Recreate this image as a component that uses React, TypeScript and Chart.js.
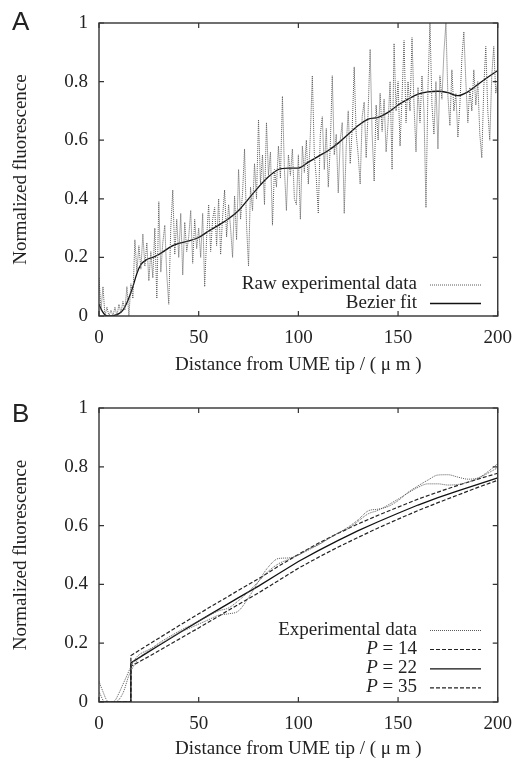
import React, { useEffect, useRef } from "react";
import { Chart, registerables } from "chart.js";
Chart.register(...registerables);

const SERIF = "'Liberation Serif', 'Times New Roman', serif";
const SANS = "'Liberation Sans', Arial, sans-serif";
const TEXT = "#222";

// ---------- shared axis ticks ----------
const xTicks = [0, 50, 100, 150, 200];
const yTicks = [0, 0.2, 0.4, 0.6, 0.8, 1];
const xTitle = "Distance from UME tip / ( \u03bc m )";
const yTitle = "Normalized fluorescence";

// ---------- Panel A ----------
const rawX = Array.from({ length: 201 }, (_, i) => i); // sampling grid, 1 µm
const rawY = [
  0.13, 0.02, 0.10, 0.0, 0.03, 0.0, 0.02, 0.0, 0.03, 0.0,
  0.04, 0.01, 0.05, 0.02, 0.10, 0.0, 0.11, 0.06, 0.26, 0.15,
  0.24, 0.16, 0.28, 0.17, 0.25, 0.12, 0.22, 0.13, 0.30, 0.06,
  0.39, 0.15, 0.25, 0.31, 0.14, 0.04, 0.30, 0.43, 0.21, 0.33,
  0.20, 0.35, 0.14, 0.32, 0.22, 0.27, 0.36, 0.18, 0.33, 0.23,
  0.30, 0.20, 0.35, 0.10, 0.27, 0.38, 0.22, 0.33, 0.37, 0.24,
  0.40, 0.21, 0.34, 0.43, 0.27, 0.38, 0.30, 0.20, 0.41, 0.26,
  0.50, 0.33, 0.42, 0.57, 0.31, 0.17, 0.44, 0.36, 0.52, 0.40,
  0.67, 0.45, 0.55, 0.38, 0.66, 0.48, 0.56, 0.31, 0.50, 0.44,
  0.58, 0.47, 0.75, 0.50, 0.36, 0.55, 0.48, 0.57, 0.40, 0.38,
  0.55, 0.33, 0.58, 0.49, 0.60, 0.45, 0.62, 0.82, 0.55, 0.47,
  0.35, 0.62, 0.68, 0.50, 0.64, 0.44, 0.58, 0.82, 0.55, 0.62,
  0.42, 0.60, 0.66, 0.35, 0.58, 0.70, 0.52, 0.64, 0.85, 0.62,
  0.55, 0.45, 0.68, 0.73, 0.54, 0.70, 0.91, 0.62, 0.46, 0.72,
  0.60, 0.76, 0.63, 0.74, 0.56, 0.66, 0.80, 0.50, 0.93, 0.70,
  0.80, 0.58, 0.75, 0.94, 0.66, 0.80, 0.70, 0.95, 0.72, 0.56,
  0.78, 0.66, 0.82, 0.70, 0.37, 0.78, 1.0, 0.72, 0.62, 0.80,
  0.57, 0.82, 0.74, 0.90, 1.0, 0.75, 0.65, 0.84, 0.70, 0.76,
  0.61, 0.72, 0.88, 0.97, 0.80, 0.66, 0.78, 0.70, 0.84, 0.72,
  0.80, 0.62, 0.54, 0.78, 0.92, 0.70, 0.60, 0.82, 0.92, 0.76,
  0.80,
];
const bezX = [0, 2, 4, 6, 8, 10, 12, 14, 16, 17, 19, 21, 24, 27, 30, 37, 40, 45, 50, 55, 60, 65, 70, 75, 80, 85, 90, 95, 100, 105, 110, 115, 120, 125, 130, 135, 140, 145, 150, 155, 160, 165, 170, 175, 180, 185, 190, 195, 200];
const bezY = [0.04, 0.012, 0.0, 0.0, 0.003, 0.008, 0.02, 0.045, 0.08, 0.1, 0.145, 0.175, 0.193, 0.2, 0.21, 0.24, 0.248, 0.256, 0.268, 0.29, 0.31, 0.332, 0.36, 0.40, 0.44, 0.475, 0.5, 0.505, 0.505, 0.525, 0.545, 0.565, 0.59, 0.62, 0.65, 0.672, 0.678, 0.695, 0.72, 0.74, 0.757, 0.765, 0.767, 0.762, 0.752, 0.765, 0.79, 0.815, 0.838];

// ---------- Panel B ----------
const modelX = [0, 15.9, 16, 20, 30, 40, 50, 60, 70, 80, 90, 100, 110, 120, 130, 140, 150, 160, 170, 180, 190, 200];
const p14Y = [0, 0, 0.158, 0.175, 0.217, 0.259, 0.30, 0.34, 0.38, 0.419, 0.462, 0.502, 0.54, 0.574, 0.606, 0.635, 0.663, 0.69, 0.714, 0.737, 0.758, 0.778];
const p22Y = [0, 0, 0.133, 0.150, 0.192, 0.234, 0.275, 0.315, 0.355, 0.394, 0.436, 0.478, 0.515, 0.55, 0.583, 0.613, 0.642, 0.67, 0.695, 0.718, 0.74, 0.762];
const p35Y = [0, 0, 0.122, 0.136, 0.174, 0.213, 0.252, 0.292, 0.332, 0.371, 0.413, 0.455, 0.492, 0.527, 0.56, 0.592, 0.622, 0.651, 0.678, 0.704, 0.73, 0.754];
const exp1X = [0, 2, 4, 6, 8, 10, 12, 14, 16, 18, 20, 25, 30, 35, 40, 45, 50, 55, 60, 65, 70, 75, 80, 85, 90, 95, 100, 105, 110, 115, 120, 125, 130, 135, 140, 145, 150, 155, 160, 165, 170, 175, 180, 185, 190, 195, 200];
const exp1Y = [0.07, 0.035, 0.005, 0.0, 0.005, 0.03, 0.06, 0.09, 0.12, 0.145, 0.16, 0.178, 0.195, 0.215, 0.235, 0.25, 0.265, 0.28, 0.295, 0.30, 0.31, 0.355, 0.41, 0.46, 0.488, 0.49, 0.50, 0.52, 0.535, 0.555, 0.575, 0.595, 0.62, 0.65, 0.656, 0.665, 0.685, 0.713, 0.735, 0.755, 0.772, 0.773, 0.765, 0.758, 0.762, 0.783, 0.811];
const exp2X = [0, 3, 8, 12, 15, 18, 20, 25, 30, 40, 50, 60, 65, 70, 75, 80, 85, 90, 95, 100, 110, 120, 125, 130, 135, 140, 150, 160, 165, 170, 175, 180, 185, 190, 195, 200];
const exp2Y = [0.035, 0.0, 0.0, 0.03, 0.09, 0.13, 0.15, 0.175, 0.2, 0.24, 0.275, 0.31, 0.32, 0.345, 0.375, 0.41, 0.445, 0.47, 0.485, 0.5, 0.535, 0.575, 0.59, 0.615, 0.64, 0.652, 0.69, 0.73, 0.742, 0.742, 0.738, 0.74, 0.748, 0.76, 0.778, 0.797];

const pts = (xs: number[], ys: number[]) => ys.map((y, i) => ({ x: xs[i], y }));

const DOT = { borderColor: "#5a5a5a", borderWidth: 1, borderDash: [1, 1] };
const DASH = { borderColor: "#222", borderWidth: 1.2, borderDash: [4, 2] };
const SOLID = { borderColor: "#111", borderWidth: 1.3, borderDash: [] as number[] };

const framePlugin = {
  id: "frame",
  afterDatasetsDraw(chart: any) {
    const { ctx, chartArea: a, scales } = chart;
    ctx.save();
    ctx.setLineDash([]);
    ctx.strokeStyle = "#333";
    ctx.lineWidth = 1.4;
    ctx.strokeRect(a.left, a.top, a.right - a.left, a.bottom - a.top);
    ctx.lineWidth = 1.2;
    const tl = 5;
    ctx.beginPath();
    scales.x.ticks.forEach((t: any) => {
      const px = scales.x.getPixelForValue(t.value);
      ctx.moveTo(px, a.bottom); ctx.lineTo(px, a.bottom - tl);
      ctx.moveTo(px, a.top); ctx.lineTo(px, a.top + tl);
    });
    scales.y.ticks.forEach((t: any) => {
      const py = scales.y.getPixelForValue(t.value);
      ctx.moveTo(a.left, py); ctx.lineTo(a.left + tl, py);
      ctx.moveTo(a.right, py); ctx.lineTo(a.right - tl, py);
    });
    ctx.stroke();
    ctx.restore();
  },
};

type LegendItem = { ds: number; italic?: string; text: string; y: number };

function legendPlugin(items: LegendItem[], textRight: number, sx0: number, sx1: number) {
  return {
    id: "refLegend",
    afterDraw(chart: any) {
      const { ctx } = chart;
      ctx.save();
      ctx.textBaseline = "middle";
      ctx.fillStyle = TEXT;
      items.forEach((it) => {
        ctx.font = `19px ${SERIF}`;
        ctx.textAlign = "right";
        ctx.fillText(it.text, textRight, it.y);
        if (it.italic) {
          const w = ctx.measureText(it.text).width;
          ctx.font = `italic 19px ${SERIF}`;
          ctx.fillText(it.italic, textRight - w, it.y);
        }
        const ds = chart.data.datasets[it.ds];
        ctx.strokeStyle = ds.borderColor;
        ctx.lineWidth = ds.borderWidth;
        ctx.setLineDash(ds.borderDash || []);
        ctx.beginPath();
        ctx.moveTo(sx0, it.y + 0.5);
        ctx.lineTo(sx1, it.y + 0.5);
        ctx.stroke();
      });
      ctx.restore();
    },
  };
}

function makeOptions(xh: number, top: number, titleBottomPad: number) {
  const tickFont = { family: SERIF, size: 19 };
  return {
    responsive: false,
    animation: false,
    layout: { padding: { left: 0, right: 19, top, bottom: 0 } },
    plugins: { legend: { display: false }, tooltip: { enabled: false } },
    elements: { point: { radius: 0 } },
    scales: {
      x: {
        type: "linear",
        min: 0,
        max: 200,
        afterBuildTicks: (s: any) => { s.ticks = xTicks.map((v) => ({ value: v })); },
        grid: { display: false, drawTicks: false },
        border: { display: false },
        ticks: { font: tickFont, color: TEXT, padding: 11, maxRotation: 0, autoSkip: false, callback: (v: any) => String(v) },
        title: { display: true, text: xTitle, font: tickFont, color: TEXT, padding: { top: 0, bottom: titleBottomPad } },
        afterFit: (s: any) => { s.height = xh; },
      },
      y: {
        type: "linear",
        min: 0,
        max: 1,
        afterBuildTicks: (s: any) => { s.ticks = yTicks.map((v) => ({ value: v })); },
        grid: { display: false, drawTicks: false },
        border: { display: false },
        ticks: { font: tickFont, color: TEXT, padding: 11, autoSkip: false, callback: (v: any) => String(Math.round(v * 10) / 10) },
        title: { display: true, text: yTitle, font: tickFont, color: TEXT, padding: { top: 10, bottom: 0 } },
        afterFit: (s: any) => { s.width = 99; },
      },
    },
  };
}

function configA() {
  return {
    type: "line",
    data: {
      datasets: [
        { label: "Raw experimental data", data: pts(rawX, rawY), ...DOT, tension: 0, fill: false },
        { label: "Bezier fit", data: pts(bezX, bezY), ...SOLID, cubicInterpolationMode: "monotone", fill: false },
      ],
    },
    options: makeOptions(64, 23, 4),
    plugins: [
      framePlugin,
      legendPlugin(
        [
          { ds: 0, text: "Raw experimental data", y: 284.5 },
          { ds: 1, text: "Bezier fit", y: 303 },
        ],
        417, 430, 481
      ),
    ],
  };
}

function configB() {
  return {
    type: "line",
    data: {
      datasets: [
        { label: "Experimental data", data: pts(exp1X, exp1Y), ...DOT, cubicInterpolationMode: "monotone", fill: false },
        { label: "Experimental data 2", data: pts(exp2X, exp2Y), ...DOT, cubicInterpolationMode: "monotone", fill: false },
        { label: "P = 14", data: pts(modelX, p14Y), ...DASH, tension: 0, fill: false },
        { label: "P = 22", data: pts(modelX, p22Y), ...SOLID, tension: 0, fill: false },
        { label: "P = 35", data: pts(modelX, p35Y), ...DASH, tension: 0, fill: false },
      ],
    },
    options: makeOptions(58, 28, 0),
    plugins: [
      framePlugin,
      legendPlugin(
        [
          { ds: 0, text: "Experimental data", y: 250 },
          { ds: 2, italic: "P", text: " = 14", y: 269 },
          { ds: 3, italic: "P", text: " = 22", y: 288.3 },
          { ds: 4, italic: "P", text: " = 35", y: 307.3 },
        ],
        417, 430, 481
      ),
    ],
  };
}

function Panel({ make, top }: { make: () => any; top: number }) {
  const ref = useRef<HTMLCanvasElement>(null);
  useEffect(() => {
    const chart = new Chart(ref.current as HTMLCanvasElement, make());
    return () => chart.destroy();
  }, []);
  return (
    <canvas
      ref={ref}
      width={523}
      height={380}
      style={{ position: "absolute", left: 0, top, width: 523, height: 380 }}
    />
  );
}

export default function App() {
  const letter: React.CSSProperties = {
    position: "absolute",
    left: 12,
    font: `26px ${SANS}`,
    color: TEXT,
    lineHeight: "30px",
  };
  return (
    <div style={{ position: "absolute", left: 0, top: 0, width: 523, height: 760, background: "#fff" }}>
      <Panel make={configA} top={0} />
      <Panel make={configB} top={380} />
      <div style={{ ...letter, top: 6 }}>A</div>
      <div style={{ ...letter, top: 398 }}>B</div>
    </div>
  );
}
